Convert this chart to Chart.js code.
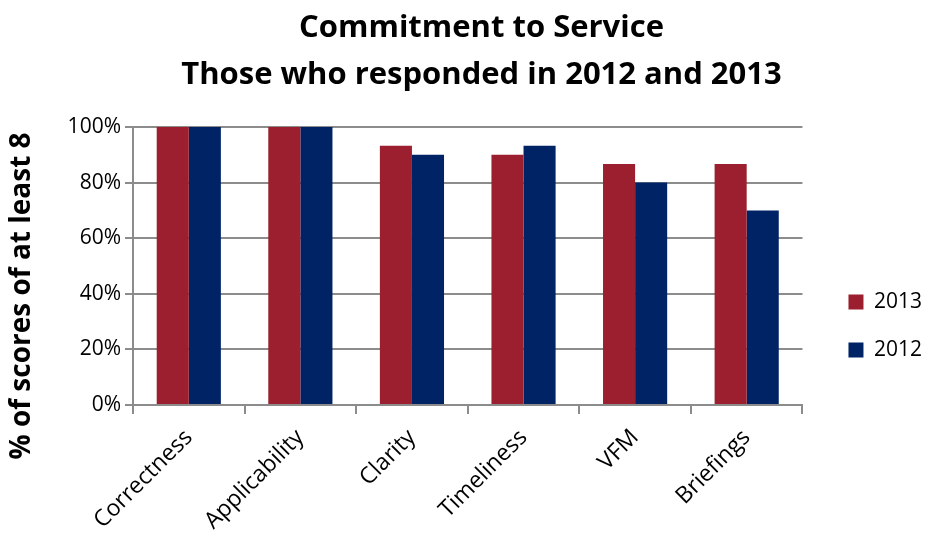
<!DOCTYPE html>
<html>
<head>
<meta charset="utf-8">
<title>Commitment to Service</title>
<script src="https://cdn.jsdelivr.net/npm/chart.js@4.4.0/dist/chart.umd.min.js"></script>
<style>
  html, body { margin: 0; padding: 0; background: #fff; }
  #wrap { width: 925px; height: 534px; }
</style>
</head>
<body>
<div id="wrap"><canvas id="serviceChart" width="925" height="534"></canvas></div>
<script>
const categories = ["Correctness", "Applicability", "Clarity", "Timeliness", "VFM", "Briefings"];
const seriesNames = ["2013", "2012"];
const values2013 = [100, 100, 93.3, 90, 86.7, 86.7];
const values2012 = [100, 100, 90, 93.3, 80, 70];
const yTicks = [0, 20, 40, 60, 80, 100];

const FONT = "'Open Sans', 'Liberation Sans', sans-serif";
const RED = "#9b1f2e";
const NAVY = "#002366";
const GRID = "#8c8c8c";

// rotated y-axis caption, drawn against the full canvas height
const yCaption = {
  id: "yCaption",
  afterDraw(chart) {
    const ctx = chart.ctx;
    ctx.save();
    ctx.translate(22, 296);
    ctx.rotate(-Math.PI / 2);
    ctx.font = "bold 28px " + FONT;
    ctx.fillStyle = "#000";
    ctx.textAlign = "center";
    ctx.textBaseline = "middle";
    ctx.fillText("% of scores of at least 8", 0, 0);
    ctx.restore();
  }
};

// push the legend block right and down, away from the plot
const legendNudge = {
  id: "legendNudge",
  afterLayout(chart) {
    const lg = chart.legend;
    if (!lg) return;
    lg.left += 19; lg.right += 19;
    lg.top += 59; lg.bottom += 59;
  }
};

const ctx = document.getElementById("serviceChart").getContext("2d");
new Chart(ctx, {
  type: "bar",
  data: {
    labels: categories,
    datasets: [
      { label: seriesNames[0], data: values2013, backgroundColor: RED },
      { label: seriesNames[1], data: values2012, backgroundColor: NAVY }
    ]
  },
  options: {
    responsive: false,
    animation: false,
    categoryPercentage: 0.575,
    barPercentage: 1,
    layout: { padding: { left: 50, right: 12, top: 0, bottom: 0 } },
    plugins: {
      title: {
        display: true,
        text: ["Commitment to Service", "Those who responded in 2012 and 2013"],
        color: "#000",
        font: { family: FONT, size: 31, weight: "bold", lineHeight: 1.5 },
        padding: { top: 5, bottom: 29 }
      },
      legend: {
        position: "right",
        labels: {
          color: "#000",
          font: { family: FONT, size: 21 },
          boxWidth: 15,
          boxHeight: 15,
          padding: 27
        }
      },
      tooltip: { enabled: false }
    },
    scales: {
      x: {
        afterFit(scale) { scale.height = 129; },
        grid: {
          drawOnChartArea: false,
          drawTicks: true,
          tickLength: 9,
          color: GRID,
          lineWidth: 2
        },
        border: { color: GRID, width: 2 },
        ticks: {
          color: "#000",
          font: { family: FONT, size: 23 },
          maxRotation: 45,
          minRotation: 45,
          padding: 10
        }
      },
      y: {
        min: 0,
        max: 100,
        afterFit(scale) { scale.width = 83; },
        afterBuildTicks(axis) {
          axis.ticks = yTicks.map(v => ({ value: v }));
        },
        grid: { color: GRID, lineWidth: 2, tickLength: 8 },
        border: { color: GRID, width: 2 },
        ticks: {
          color: "#000",
          font: { family: FONT, size: 21 },
          padding: 4,
          callback: v => v + "%"
        }
      }
    }
  },
  plugins: [yCaption, legendNudge]
});
</script>
</body>
</html>
